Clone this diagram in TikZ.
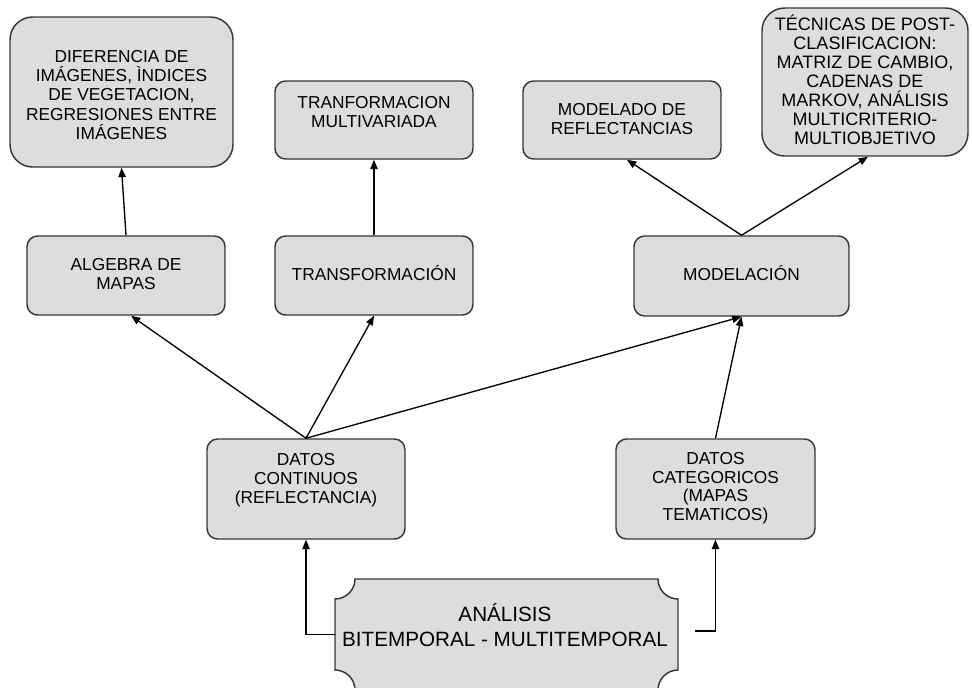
\documentclass[tikz,border=0pt]{standalone}
\usepackage{fontspec}
\setmainfont{Liberation Sans}
\usetikzlibrary{arrows.meta,calc}
\definecolor{boxfill}{RGB}{221,221,221}
\definecolor{boxline}{RGB}{55,55,55}
\begin{document}
\begin{tikzpicture}[x=0.75pt,y=-0.75pt,
  box/.style={draw=boxline, fill=boxfill, line width=1.1pt, rounded corners=8pt, inner sep=0pt},
  bigbox/.style={box, rounded corners=17pt},
  txt/.style={align=center, inner sep=0pt, font=\fontsize{13}{14.4}\selectfont},
  arr/.style={draw=black, line width=1pt, -{Triangle[length=7pt,width=5.5pt]}}]
\useasboundingbox (0,0) rectangle (972,687);
\clip (0,0) rectangle (972,687);
\fill[white] (0,0) rectangle (972,687);

% top row
\node[bigbox, minimum width={223*0.75pt}, minimum height={150*0.75pt}] (dif) at (121.5,92) {};
\node[txt] (diftxt) at (121.5,95) {DIFERENCIA DE\\IMÁGENES, ÌNDICES\\DE VEGETACION,\\REGRESIONES ENTRE\\IMÁGENES};

\node[box, minimum width={198*0.75pt}, minimum height={78*0.75pt}] (tmv) at (374,120) {};
\node[txt] (tmvtxt) at (374,112) {TRANFORMACION\\MULTIVARIADA};

\node[box, minimum width={198*0.75pt}, minimum height={78*0.75pt}] (mod) at (622,120) {};
\node[txt] (modtxt) at (622,119) {MODELADO DE\\REFLECTANCIAS};

\node[bigbox, minimum width={206*0.75pt}, minimum height={148*0.75pt}] (tec) at (865,82) {};
\node[txt, font=\fontsize{13.5}{14.3}\selectfont] (tectxt) at (865,80) {TÉCNICAS DE POST-\\CLASIFICACION:\\MATRIZ DE CAMBIO,\\CADENAS DE\\MARKOV, ANÁLISIS\\MULTICRITERIO-\\MULTIOBJETIVO};

% middle row
\node[box, minimum width={198*0.75pt}, minimum height={79*0.75pt}] (alg) at (126,275.5) {};
\node[txt] (algtxt) at (126,274) {ALGEBRA DE\\MAPAS};

\node[box, minimum width={198*0.75pt}, minimum height={79*0.75pt}] (tra) at (374,275.5) {};
\node[txt] (tratxt) at (374,273) {TRANSFORMACIÓN};

\node[box, minimum width={215*0.75pt}, minimum height={80*0.75pt}] (mdl) at (741.5,276) {};
\node[txt] (mdltxt) at (741.5,273) {MODELACIÓN};

% data row
\node[box, minimum width={198*0.75pt}, minimum height={100*0.75pt}] (dc) at (306,489) {};
\node[txt] (dctxt) at (306,480) {DATOS\\CONTINUOS\\(REFLECTANCIA)};

\node[box, minimum width={199*0.75pt}, minimum height={100*0.75pt}] (dcat) at (715.5,489) {};
\node[txt, font=\fontsize{13}{13.9}\selectfont] (dcattxt) at (715.5,488) {DATOS\\CATEGORICOS\\(MAPAS\\TEMATICOS)};

% bottom plaque
\filldraw[fill=boxfill, draw=boxline, line width=1.1pt]
  (355,579) -- (658,579) .. controls (658,590) and (667,599) .. (678,599)
  -- (678,670) .. controls (667,670) and (658,679) .. (658,690)
  -- (355,690) .. controls (355,679) and (346,670) .. (335,670)
  -- (335,599) .. controls (346,599) and (355,590) .. (355,579) -- cycle;
\node[draw=none, inner sep=0pt, minimum width={343*0.75pt}, minimum height={111*0.75pt}] (ana) at (506.5,634.5) {};
\node[txt, font=\fontsize{15.5}{18.8}\selectfont] (anatxt) at (505,625) {ANÁLISIS\\BITEMPORAL - MULTITEMPORAL};
\coordinate (anaR) at (695,631);

% connectors
\draw[arr] (alg.north) -- (dif.south);
\draw[arr] (tra.north) -- (tmv.south);
\draw[arr] (mdl.north) -- ($(mod.south)+(5,0)$);
\draw[arr] (mdl.north) -- ($(tec.south)+(3,0)$);
\draw[arr] (dc.north) -- ($(alg.south)+(5,0)$);
\draw[arr] (dc.north) -- (tra.south);
\draw[arr] (dc.north) -- (mdl.south);
\draw[arr] (dcat.north) -- (mdl.south);
\draw[arr] (ana.west) -| (dc.south);
\draw[arr] (anaR) -| (dcat.south);
\end{tikzpicture}
\end{document}
